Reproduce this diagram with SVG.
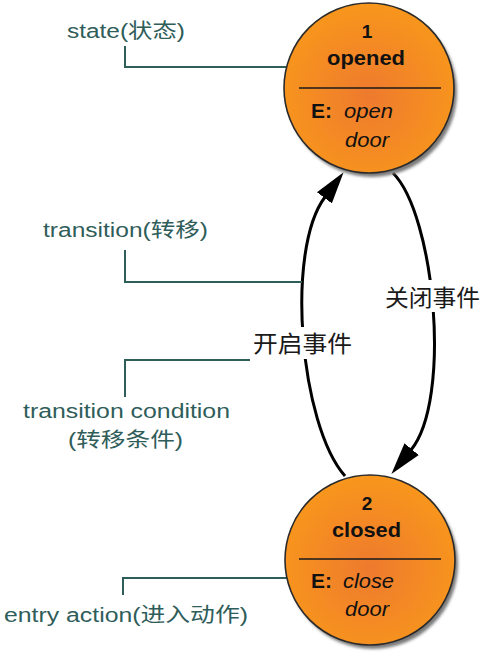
<svg xmlns="http://www.w3.org/2000/svg" width="486" height="655" viewBox="0 0 486 655">
<style>
.lbl{font-family:"Liberation Sans","Noto Sans CJK SC",sans-serif;font-size:20px;fill:#2F5D5A}
.call{fill:none;stroke:#2F5D5A;stroke-width:2}
.ev{font-family:"Liberation Sans","Noto Sans CJK SC",sans-serif;font-size:23px;fill:#1a1a1a}
.num{font-family:"Liberation Sans",sans-serif;font-size:19px;font-weight:bold;fill:#111}
.name{font-family:"Liberation Sans",sans-serif;font-size:20px;font-weight:bold;fill:#111}
.act{font-family:"Liberation Sans",sans-serif;font-size:20px;font-style:italic;fill:#111}
.arc{fill:none;stroke:#000;stroke-width:3}
.body{fill:url(#og);stroke:#2a2a2a;stroke-width:1.6}
.shadow{fill:#7a7a7a;filter:url(#blur)}
.div{stroke:#1a1a1a;stroke-width:1.6}
</style>
<defs>
<radialGradient id="og" cx="50%" cy="55%" r="55%">
<stop offset="0" stop-color="#EE7A2E"/>
<stop offset="1" stop-color="#F8961C"/>
</radialGradient>
<filter id="blur" x="-10%" y="-10%" width="120%" height="120%"><feGaussianBlur stdDeviation="1.5"/></filter>
<marker id="ah" markerUnits="userSpaceOnUse" markerWidth="34" markerHeight="22" viewBox="0 -10 33 20" refX="1" refY="0" orient="auto">
<path d="M0,-9 L31,0 L0,9 z" fill="#000"/>
</marker>
</defs>

<g id="connectors">
<path class="arc" d="M393,173 C435,215 452,400 411,450" marker-end="url(#ah)"/>
<path class="arc" d="M345,476 C300,425 285,250 325,197" marker-end="url(#ah)"/>
</g>

<g id="callouts">
<path class="call" d="M125,46 V67 H287"/>
<path class="call" d="M125,250 V282 H302"/>
<path class="call" d="M125,397 V360 H250"/>
<path class="call" d="M123,595 V578 H287"/>
</g>

<g id="state1">
<circle class="shadow" cx="372" cy="92" r="85"/>
<circle class="body" cx="369" cy="88" r="85"/>
<line class="div" x1="299" y1="88" x2="441" y2="88"/>
<text class="num" x="367" y="38" text-anchor="middle">1</text>
<text class="name" x="327" y="65" textLength="78" lengthAdjust="spacingAndGlyphs">opened</text>
<text class="name" x="311" y="118" textLength="21" lengthAdjust="spacingAndGlyphs">E:</text>
<text class="act" x="344" y="118" textLength="49" lengthAdjust="spacingAndGlyphs">open</text>
<text class="act" x="345" y="147" textLength="44" lengthAdjust="spacingAndGlyphs">door</text>
</g>

<g id="state2">
<circle class="shadow" cx="373" cy="564" r="85"/>
<circle class="body" cx="370" cy="560" r="85"/>
<line class="div" x1="299" y1="559" x2="441" y2="559"/>
<text class="num" x="367" y="510" text-anchor="middle">2</text>
<text class="name" x="332" y="537" textLength="69" lengthAdjust="spacingAndGlyphs">closed</text>
<text class="name" x="311" y="588" textLength="21" lengthAdjust="spacingAndGlyphs">E:</text>
<text class="act" x="343" y="588" textLength="51" lengthAdjust="spacingAndGlyphs">close</text>
<text class="act" x="345" y="616" textLength="44" lengthAdjust="spacingAndGlyphs">door</text>
</g>

<g id="label-close-event">
<rect x="381" y="280" width="102" height="32" fill="#fff"/>
<text class="ev" x="385" y="306" textLength="95" lengthAdjust="spacingAndGlyphs">关闭事件</text>
</g>

<g id="label-open-event">
<rect x="249" y="327" width="107" height="32" fill="#fff"/>
<text class="ev" x="253" y="352" textLength="99" lengthAdjust="spacingAndGlyphs">开启事件</text>
</g>

<g id="label-state">
<text class="lbl" x="67" y="38" textLength="118" lengthAdjust="spacingAndGlyphs">state(状态)</text>
</g>
<g id="label-transition">
<text class="lbl" x="43" y="237" textLength="165" lengthAdjust="spacingAndGlyphs">transition(转移)</text>
</g>
<g id="label-condition">
<text class="lbl" x="23" y="418" textLength="207" lengthAdjust="spacingAndGlyphs">transition condition</text>
<text class="lbl" x="68" y="447" textLength="115" lengthAdjust="spacingAndGlyphs">(转移条件)</text>
</g>
<g id="label-entry">
<text class="lbl" x="4" y="622" textLength="244" lengthAdjust="spacingAndGlyphs">entry action(进入动作)</text>
</g>
</svg>
